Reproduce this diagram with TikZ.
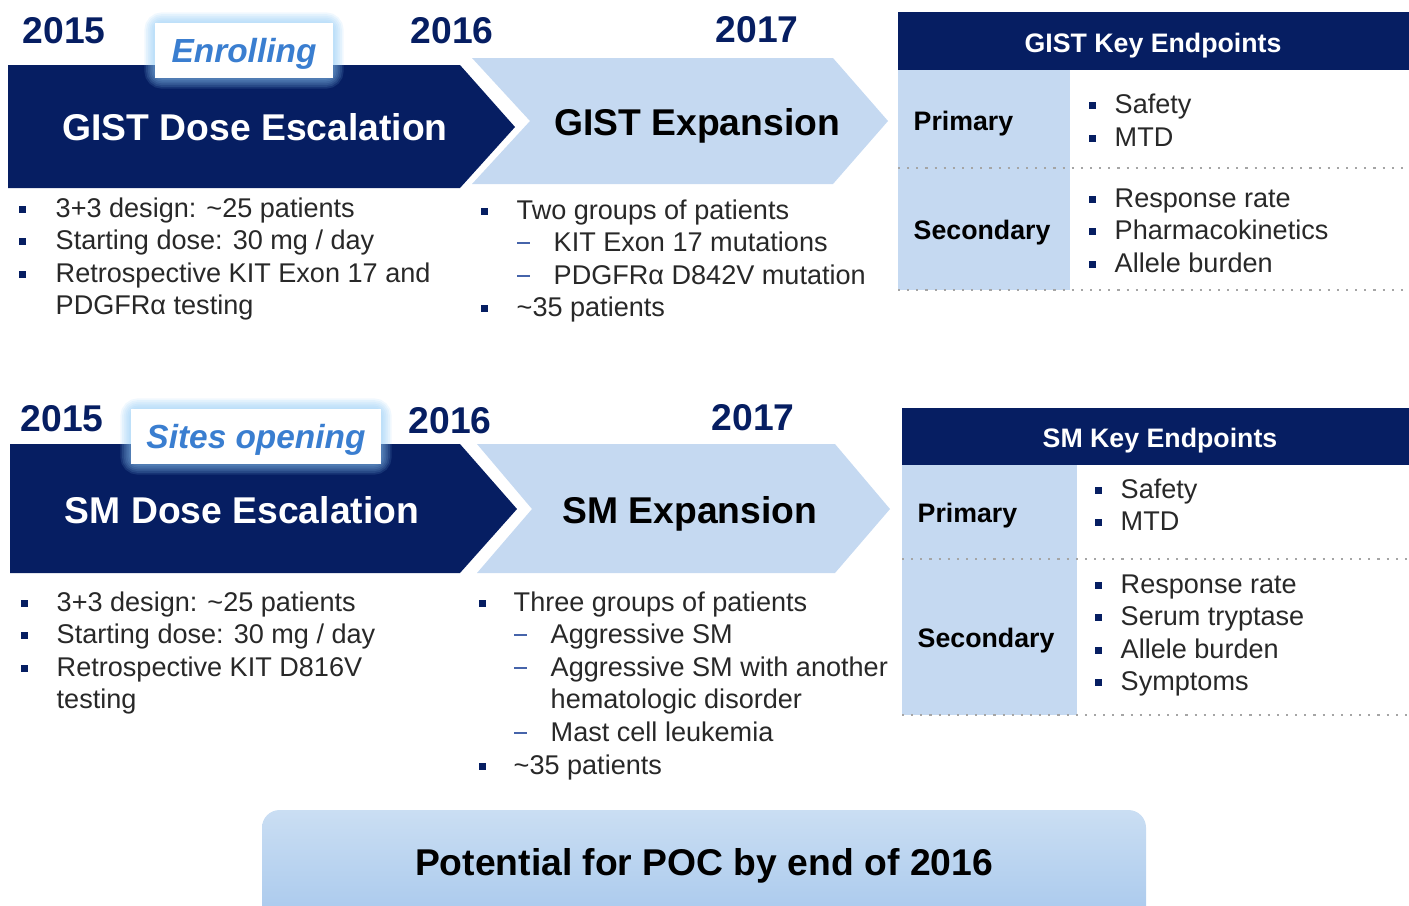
\documentclass[tikz,border=0pt]{standalone}
\usepackage{fontspec}
\setmainfont{Liberation Sans}

\definecolor{navy}{RGB}{6,30,98}
\definecolor{paleblue}{RGB}{197,217,241}
\definecolor{linkblue}{RGB}{58,126,208}
\definecolor{glowblue}{RGB}{140,200,245}
\definecolor{bodygray}{RGB}{40,40,40}
\definecolor{dashblue}{RGB}{70,100,170}
\definecolor{dotgray}{RGB}{165,165,165}
\definecolor{boxtop}{RGB}{202,222,243}
\definecolor{boxbottom}{RGB}{166,199,236}

\tikzset{
  year/.style={anchor=base west, inner sep=0, text=navy, font=\bfseries\fontsize{10.6}{12}\selectfont},
  phase/.style={anchor=base, inner sep=0, font=\bfseries\fontsize{10.6}{12}\selectfont},
  status/.style={anchor=base, inner sep=0, text=linkblue, font=\bfseries\itshape\fontsize{9.5}{11}\selectfont},
  txt/.style={anchor=base west, inner sep=0, text=bodygray, font=\fontsize{7.7}{9}\selectfont},
  lab/.style={anchor=base west, inner sep=0, font=\bfseries\fontsize{7.6}{9}\selectfont},
  head/.style={anchor=base, inner sep=0, text=white, font=\bfseries\fontsize{7.6}{9}\selectfont},
  sep/.style={dotgray, line width=0.6pt, dotted},
  glow/.style={glowblue, line width=#1pt, opacity=.13, rounded corners=2pt},
}

\begin{document}
\begin{tikzpicture}[x=0.01cm, y=-0.01cm]
    \useasboundingbox (0,0) rectangle (1409,905);
    \clip (0,0) rectangle (1409,905);

    % ---- GIST timeline ----
    \fill[navy] (8,65) -- (460,65) -- (515,127) -- (460,188) -- (8,188) -- cycle;
    \fill[paleblue] (472,58) -- (833,58) -- (888,121) -- (833,184) -- (472,184) -- (530,121) -- cycle;
    \node[phase, text=white] (gdose) at (255,140) {GIST Dose Escalation};
    \node[phase] (gexp) at (697,135) {GIST Expansion};

    \foreach \w in {6,5,4,3,2,1}
        \draw[glow=\w] (155,23) rectangle (333,78);
    \fill[white] (155,23) rectangle (333,78);
    \node[status] (enrol) at (244,62) {Enrolling};

    \node[year] (g15) at (22,43) {2015};
    \node[year] (g16) at (410,43) {2016};
    \node[year] (g17) at (715,42) {2017};

    \node[txt] (gd1) at (55,217) {3+3 design: \textasciitilde25 patients};
    \node[txt] (gd2) at (55,249) {Starting dose: 30 mg / day};
    \node[txt] (gd3) at (55,282) {Retrospective KIT Exon 17 and};
    \node[txt] (gd4) at (55,314) {PDGFRα testing};
    \foreach \y in {217,249,282}
        \fill[navy] (18.5,\y-11) rectangle ++(7,7);

    \node[txt] (ge1) at (516,219) {Two groups of patients};
    \node[txt] (ge2) at (553,251) {KIT Exon 17 mutations};
    \node[txt] (ge3) at (553,284) {PDGFRα D842V mutation};
    \node[txt] (ge4) at (516,316) {\textasciitilde35 patients};
    \foreach \y in {219,316}
        \fill[navy] (480.5,\y-11) rectangle ++(7,7);
    \foreach \y in {251,284}
        \draw[dashblue, line width=0.7pt] (517,\y-8) -- ++(13,0);

    % GIST endpoints table
    \fill[navy] (898,12) rectangle (1409,70);
    \fill[paleblue] (898,70) rectangle (1070,290);
    \draw[sep] (898,168) -- (1409,168);
    \draw[sep] (898,290) -- (1409,290);
    \node[head] (gkey) at (1153,52) {GIST Key Endpoints};
    \node[lab] (gprim) at (913,130) {Primary};
    \node[lab] (gsec) at (913,239) {Secondary};
    \node[txt] (gp1) at (1114,113) {Safety};
    \node[txt] (gp2) at (1114,146) {MTD};
    \node[txt] (gs1) at (1114,207) {Response rate};
    \node[txt] (gs2) at (1114,239) {Pharmacokinetics};
    \node[txt] (gs3) at (1114,272) {Allele burden};
    \foreach \y in {113,146,207,239,272}
        \fill[navy] (1088.5,\y-11) rectangle ++(7,7);

    % ---- SM timeline ----
    \fill[navy] (10,444) -- (460,444) -- (517,509) -- (460,573) -- (10,573) -- cycle;
    \fill[paleblue] (477,444) -- (835,444) -- (890,509) -- (835,573) -- (477,573) -- (532,509) -- cycle;
    \node[phase, text=white] (sdose) at (242,523) {SM Dose Escalation};
    \node[phase] (sexp) at (690,523) {SM Expansion};

    \foreach \w in {6,5,4,3,2,1}
        \draw[glow=\w] (131,409) rectangle (381,464);
    \fill[white] (131,409) rectangle (381,464);
    \node[status] (sites) at (256,448) {Sites opening};

    \node[year] (s15) at (20,431) {2015};
    \node[year] (s16) at (408,433) {2016};
    \node[year] (s17) at (711,430) {2017};

    \node[txt] (sd1) at (56,611) {3+3 design: \textasciitilde25 patients};
    \node[txt] (sd2) at (56,643) {Starting dose: 30 mg / day};
    \node[txt] (sd3) at (56,676) {Retrospective KIT D816V};
    \node[txt] (sd4) at (56,708) {testing};
    \foreach \y in {611,643,676}
        \fill[navy] (20.5,\y-11) rectangle ++(7,7);

    \node[txt] (se1) at (513,611) {Three groups of patients};
    \node[txt] (se2) at (550,643) {Aggressive SM};
    \node[txt] (se3) at (550,676) {Aggressive SM with another};
    \node[txt] (se4) at (550,708) {hematologic disorder};
    \node[txt] (se5) at (550,741) {Mast cell leukemia};
    \node[txt] (se6) at (513,774) {\textasciitilde35 patients};
    \foreach \y in {611,774}
        \fill[navy] (478.5,\y-11) rectangle ++(7,7);
    \foreach \y in {643,676,741}
        \draw[dashblue, line width=0.7pt] (514,\y-8) -- ++(13,0);

    % SM endpoints table
    \fill[navy] (902,408) rectangle (1409,465);
    \fill[paleblue] (902,465) rectangle (1077,715);
    \draw[sep] (902,559) -- (1409,559);
    \draw[sep] (902,715) -- (1409,715);
    \node[head] (skey) at (1160,447) {SM Key Endpoints};
    \node[lab] (sprim) at (917,522) {Primary};
    \node[lab] (ssec) at (917,647) {Secondary};
    \node[txt] (sp1) at (1120,498) {Safety};
    \node[txt] (sp2) at (1120,530) {MTD};
    \node[txt] (ss1) at (1120,593) {Response rate};
    \node[txt] (ss2) at (1120,625) {Serum tryptase};
    \node[txt] (ss3) at (1120,658) {Allele burden};
    \node[txt] (ss4) at (1120,690) {Symptoms};
    \foreach \y in {498,530,593,625,658,690}
        \fill[navy] (1094.5,\y-11) rectangle ++(7,7);

    % ---- bottom banner ----
    \shade[top color=boxtop, bottom color=boxbottom, rounded corners=5pt] (262,810) rectangle (1146,930);
    \node[phase, text=black] (poc) at (704,875) {Potential for POC by end of 2016};
\end{tikzpicture}
\end{document}
